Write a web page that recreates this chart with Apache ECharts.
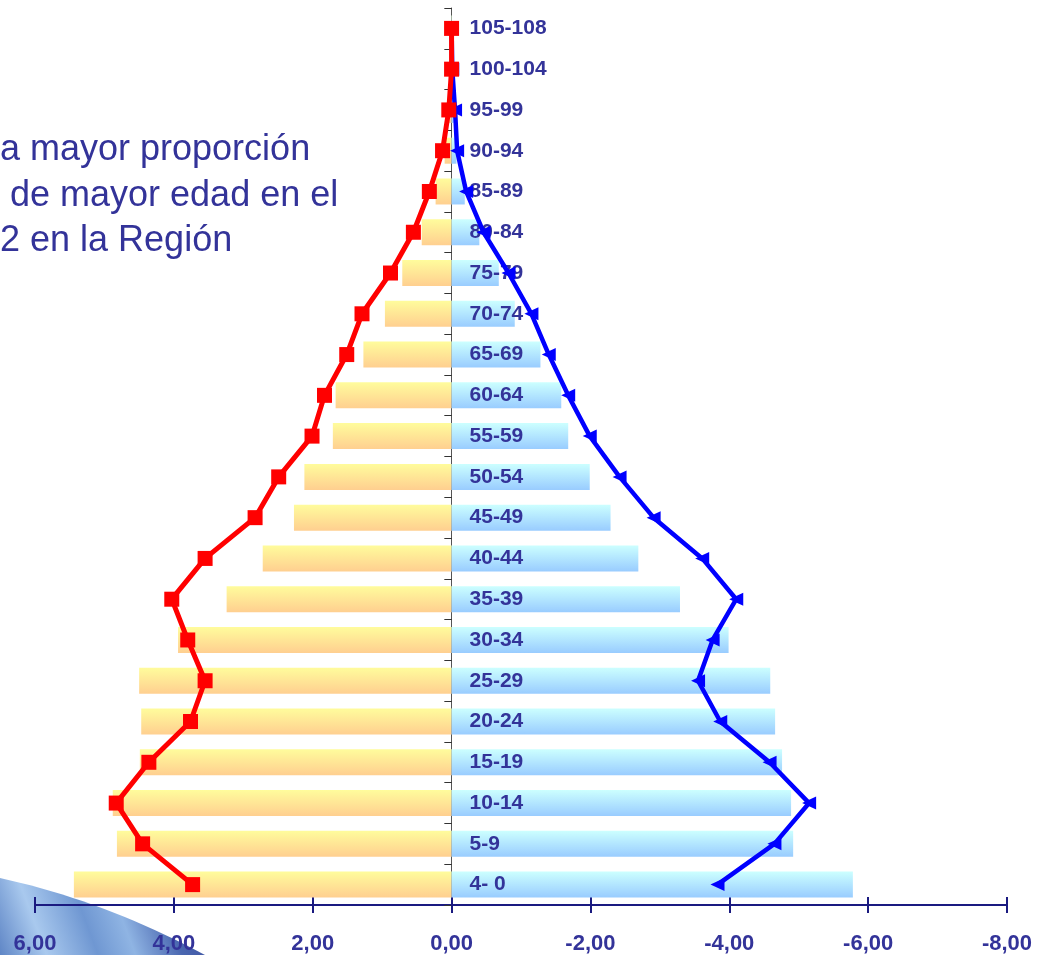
<!DOCTYPE html>
<html>
<head>
<meta charset="utf-8">
<script src="https://cdn.jsdelivr.net/npm/echarts@6/dist/echarts.min.js"></script>
<style>
html,body{margin:0;padding:0;background:#fff;}
#chart{width:1039px;height:955px;}
</style>
</head>
<body>
<div id="chart"></div>
<script>
// Age groups (bottom to top)
var categories = ['4- 0','5-9','10-14','15-19','20-24','25-29','30-34','35-39','40-44','45-49','50-54','55-59','60-64','65-69','70-74','75-79','80-84','85-89','90-94','95-99','100-104','105-108'];
// Left bars (positive values)
var leftBars = [5.44,4.82,4.88,4.49,4.47,4.50,3.94,3.24,2.72,2.27,2.12,1.71,1.67,1.27,0.96,0.71,0.43,0.23,0.10,0.04,0.015,0.005];
// Right bars (negative values)
var rightBars = [-5.78,-4.92,-4.89,-4.76,-4.66,-4.59,-3.99,-3.29,-2.69,-2.29,-1.99,-1.68,-1.58,-1.28,-0.91,-0.68,-0.40,-0.19,-0.07,-0.03,-0.01,-0.005];
// Red line (squares)
var leftLine = [3.73,4.45,4.83,4.36,3.76,3.55,3.80,4.03,3.55,2.83,2.49,2.01,1.83,1.51,1.29,0.88,0.55,0.32,0.13,0.04,0.0,0.0];
// Blue line (triangles)
var rightLine = [-3.83,-4.65,-5.15,-4.58,-3.87,-3.55,-3.76,-4.10,-3.61,-2.91,-2.42,-1.99,-1.68,-1.40,-1.15,-0.82,-0.46,-0.21,-0.08,-0.05,-0.01,0.0];
// Slide text fragments
var textLines = ['a mayor proporción', ' de mayor edad en el', '2 en la Región'];

var chart = echarts.init(document.getElementById('chart'));
var navy = '#333399';
var FONT = '"Liberation Sans", Arial, sans-serif';
var fmt = function (v) { return v.toFixed(2).replace('.', ','); };
function lin(x, y, x2, y2, stops) {
  return { type: 'linear', x: x, y: y, x2: x2, y2: y2, colorStops: stops };
}

// decorative swoosh outline (bottom-left corner)
var swoosh = [];
for (var i = 0; i <= 20; i++) {
  var t = i / 20;
  var px = 2 * (1 - t) * t * 105 + t * t * 205;
  var py = (1 - t) * (1 - t) * 878 + 2 * (1 - t) * t * 901 + t * t * 955;
  swoosh.push([px, py]);
}
swoosh.push([0, 955]);

// category labels placed at value 0 (right of the central axis)
var labelPoints = categories.map(function (c) { return [0, c]; });

var xBase = {
  type: 'value', min: -8, max: 6, interval: 2, inverse: true, position: 'bottom',
  splitLine: { show: false },
  axisLine: { show: true, onZero: false, lineStyle: { color: '#1a1a80', width: 2 } }
};

var option = {
  animation: false,
  backgroundColor: '#ffffff',
  grid: { left: 35, right: 32, top: 8, bottom: 47, containLabel: false },
  graphic: [
    {
      type: 'polygon', z: -10, silent: true,
      shape: { points: swoosh },
      style: {
        fill: lin(1, 0, 0, 1, [
          { offset: 0, color: '#3a4b9c' },
          { offset: 0.22, color: '#4a67b0' },
          { offset: 0.42, color: '#8fb4e3' },
          { offset: 0.58, color: '#6f97d2' },
          { offset: 0.8, color: '#a9c9ee' },
          { offset: 1, color: '#5f86c6' }
        ])
      }
    },
    { type: 'text', left: 0, top: 132, z: 10, style: { text: textLines[0], font: '36px ' + FONT, fill: navy } },
    { type: 'text', left: 0, top: 178, z: 10, style: { text: textLines[1], font: '36px ' + FONT, fill: navy } },
    { type: 'text', left: 0, top: 223, z: 10, style: { text: textLines[2], font: '36px ' + FONT, fill: navy } }
  ],
  xAxis: [
    Object.assign({}, xBase, {
      axisTick: { show: true, inside: false, length: 8, lineStyle: { color: '#1a1a80', width: 2 } },
      axisLabel: { show: true, margin: 28, formatter: fmt, color: navy, fontSize: 22, fontWeight: 'bold', fontFamily: FONT }
    }),
    Object.assign({}, xBase, {
      axisTick: { show: true, inside: true, length: 8, lineStyle: { color: '#1a1a80', width: 2 } },
      axisLabel: { show: false }
    })
  ],
  yAxis: [
    {
      type: 'category', data: categories, boundaryGap: true,
      axisLine: { show: true, onZero: true, onZeroAxisIndex: 0, lineStyle: { color: '#555555', width: 1 } },
      axisTick: { show: true, inside: false, length: 7, lineStyle: { color: '#333333', width: 1 } },
      axisLabel: { show: false },
      splitLine: { show: false }
    },
    {
      type: 'category', data: categories, boundaryGap: true,
      axisLine: { show: false, onZero: true, onZeroAxisIndex: 0 },
      axisTick: { show: true, inside: true, length: 7, lineStyle: { color: '#333333', width: 1 } },
      axisLabel: { show: false },
      splitLine: { show: false }
    }
  ],
  series: [
    {
      type: 'bar', data: leftBars, barWidth: 26, barGap: '-100%', z: 1,
      itemStyle: { color: lin(0, 0, 0, 1, [{ offset: 0, color: '#fffc9c' }, { offset: 1, color: '#ffcf90' }]) }
    },
    {
      type: 'bar', data: rightBars, barWidth: 26, barGap: '-100%', z: 1,
      itemStyle: { color: lin(0, 0, 0, 1, [{ offset: 0, color: '#ccffff' }, { offset: 1, color: '#99ccff' }]) }
    },
    {
      type: 'scatter', data: labelPoints, symbolSize: 0, z: 3, silent: true,
      itemStyle: { opacity: 1 },
      label: {
        show: true, position: 'right', distance: 18, opacity: 1,
        formatter: function (p) { return p.value[1]; },
        color: navy, fontSize: 21, fontWeight: 'bold', fontFamily: FONT
      }
    },
    {
      type: 'line', data: rightLine, z: 5,
      symbol: 'triangle', symbolSize: [13, 14], symbolRotate: 90, showAllSymbol: true,
      lineStyle: { color: '#0000ff', width: 4.5 },
      itemStyle: { color: '#0000ff' }
    },
    {
      type: 'line', data: leftLine, z: 6,
      symbol: 'rect', symbolSize: 15, showAllSymbol: true,
      lineStyle: { color: '#ff0000', width: 5 },
      itemStyle: { color: '#ff0000' }
    }
  ]
};
chart.setOption(option);
</script>
</body>
</html>
